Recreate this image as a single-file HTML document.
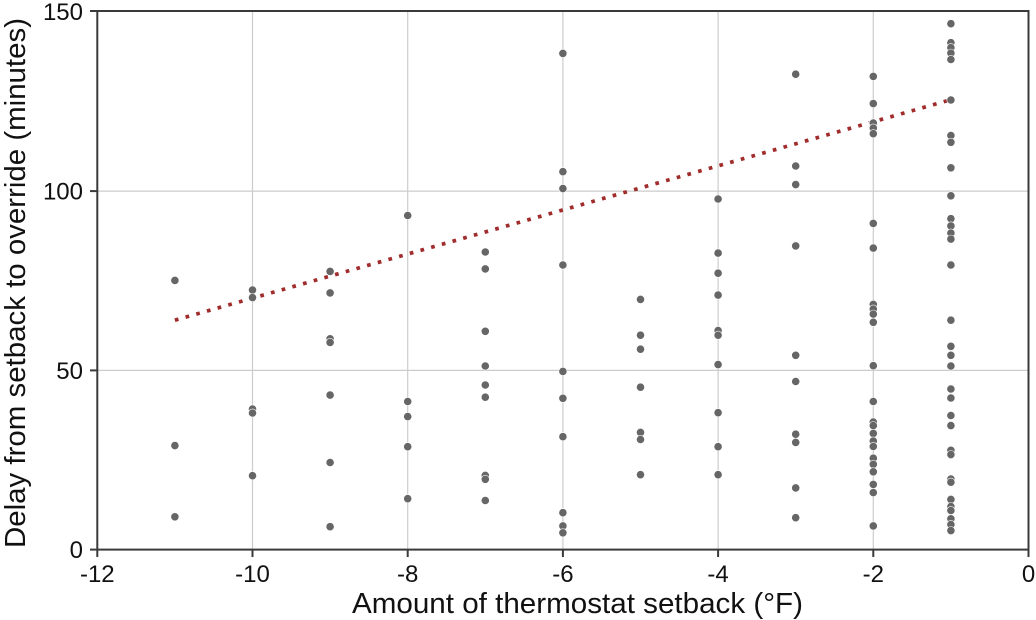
<!DOCTYPE html>
<html><head><meta charset="utf-8"><style>
html,body{margin:0;padding:0;background:#fff;}
svg{display:block;}
text{font-family:"Liberation Sans",Arial,sans-serif;fill:#111;}
</style></head><body>
<svg width="1036" height="620" viewBox="0 0 1036 620" xmlns="http://www.w3.org/2000/svg">
<rect x="0" y="0" width="1036" height="620" fill="#fff"/>
<g stroke="#cccccc" stroke-width="1.2">
<line x1="252.5" y1="11" x2="252.5" y2="549.6"/>
<line x1="407.7" y1="11" x2="407.7" y2="549.6"/>
<line x1="562.9" y1="11" x2="562.9" y2="549.6"/>
<line x1="718.1" y1="11" x2="718.1" y2="549.6"/>
<line x1="873.3" y1="11" x2="873.3" y2="549.6"/>
<line x1="97.3" y1="370.4" x2="1028.5" y2="370.4"/>
<line x1="97.3" y1="191.1" x2="1028.5" y2="191.1"/>
</g>
<line x1="174.9" y1="320.2" x2="950.9" y2="99.7" stroke="#a02c2c" stroke-width="3.7" stroke-dasharray="3.7 7.4"/>
<g fill="#666666" stroke="#fff" stroke-width="0.6">
<circle cx="174.9" cy="280.4" r="4.1"/><circle cx="174.9" cy="445.6" r="4.1"/><circle cx="174.9" cy="516.8" r="4.1"/>
<circle cx="252.5" cy="290.0" r="4.1"/><circle cx="252.5" cy="297.6" r="4.1"/><circle cx="252.5" cy="409.1" r="4.1"/><circle cx="252.5" cy="413.0" r="4.1"/><circle cx="252.5" cy="475.7" r="4.1"/>
<circle cx="330.1" cy="271.4" r="4.1"/><circle cx="330.1" cy="292.9" r="4.1"/><circle cx="330.1" cy="338.8" r="4.1"/><circle cx="330.1" cy="342.4" r="4.1"/><circle cx="330.1" cy="395.1" r="4.1"/><circle cx="330.1" cy="462.5" r="4.1"/><circle cx="330.1" cy="526.7" r="4.1"/>
<circle cx="407.7" cy="215.5" r="4.1"/><circle cx="407.7" cy="401.5" r="4.1"/><circle cx="407.7" cy="416.6" r="4.1"/><circle cx="407.7" cy="446.7" r="4.1"/><circle cx="407.7" cy="498.7" r="4.1"/>
<circle cx="485.3" cy="252.0" r="4.1"/><circle cx="485.3" cy="268.9" r="4.1"/><circle cx="485.3" cy="331.3" r="4.1"/><circle cx="485.3" cy="366.0" r="4.1"/><circle cx="485.3" cy="385.0" r="4.1"/><circle cx="485.3" cy="397.2" r="4.1"/><circle cx="485.3" cy="475.4" r="4.1"/><circle cx="485.3" cy="479.3" r="4.1"/><circle cx="485.3" cy="500.5" r="4.1"/>
<circle cx="562.9" cy="53.4" r="4.1"/><circle cx="562.9" cy="171.7" r="4.1"/><circle cx="562.9" cy="188.6" r="4.1"/><circle cx="562.9" cy="265.0" r="4.1"/><circle cx="562.9" cy="371.4" r="4.1"/><circle cx="562.9" cy="398.3" r="4.1"/><circle cx="562.9" cy="436.7" r="4.1"/><circle cx="562.9" cy="512.7" r="4.1"/><circle cx="562.9" cy="525.9" r="4.1"/><circle cx="562.9" cy="532.8" r="4.1"/>
<circle cx="640.5" cy="299.4" r="4.1"/><circle cx="640.5" cy="335.2" r="4.1"/><circle cx="640.5" cy="349.2" r="4.1"/><circle cx="640.5" cy="387.2" r="4.1"/><circle cx="640.5" cy="432.4" r="4.1"/><circle cx="640.5" cy="439.5" r="4.1"/><circle cx="640.5" cy="474.7" r="4.1"/>
<circle cx="718.1" cy="199.0" r="4.1"/><circle cx="718.1" cy="253.1" r="4.1"/><circle cx="718.1" cy="273.2" r="4.1"/><circle cx="718.1" cy="295.1" r="4.1"/><circle cx="718.1" cy="330.6" r="4.1"/><circle cx="718.1" cy="335.2" r="4.1"/><circle cx="718.1" cy="364.6" r="4.1"/><circle cx="718.1" cy="412.7" r="4.1"/><circle cx="718.1" cy="446.7" r="4.1"/><circle cx="718.1" cy="474.7" r="4.1"/>
<circle cx="795.7" cy="74.2" r="4.1"/><circle cx="795.7" cy="166.0" r="4.1"/><circle cx="795.7" cy="184.6" r="4.1"/><circle cx="795.7" cy="245.9" r="4.1"/><circle cx="795.7" cy="355.3" r="4.1"/><circle cx="795.7" cy="381.5" r="4.1"/><circle cx="795.7" cy="434.2" r="4.1"/><circle cx="795.7" cy="442.4" r="4.1"/><circle cx="795.7" cy="487.9" r="4.1"/><circle cx="795.7" cy="517.7" r="4.1"/>
<circle cx="873.3" cy="76.4" r="4.1"/><circle cx="873.3" cy="103.6" r="4.1"/><circle cx="873.3" cy="123.0" r="4.1"/><circle cx="873.3" cy="128.0" r="4.1"/><circle cx="873.3" cy="133.7" r="4.1"/><circle cx="873.3" cy="223.4" r="4.1"/><circle cx="873.3" cy="248.1" r="4.1"/><circle cx="873.3" cy="304.4" r="4.1"/><circle cx="873.3" cy="309.0" r="4.1"/><circle cx="873.3" cy="314.1" r="4.1"/><circle cx="873.3" cy="322.3" r="4.1"/><circle cx="873.3" cy="365.7" r="4.1"/><circle cx="873.3" cy="401.5" r="4.1"/><circle cx="873.3" cy="422.0" r="4.1"/><circle cx="873.3" cy="425.6" r="4.1"/><circle cx="873.3" cy="433.4" r="4.1"/><circle cx="873.3" cy="441.0" r="4.1"/><circle cx="873.3" cy="446.4" r="4.1"/><circle cx="873.3" cy="458.2" r="4.1"/><circle cx="873.3" cy="464.3" r="4.1"/><circle cx="873.3" cy="471.8" r="4.1"/><circle cx="873.3" cy="484.4" r="4.1"/><circle cx="873.3" cy="492.6" r="4.1"/><circle cx="873.3" cy="525.9" r="4.1"/>
<circle cx="950.9" cy="23.7" r="4.1"/><circle cx="950.9" cy="42.7" r="4.1"/><circle cx="950.9" cy="47.7" r="4.1"/><circle cx="950.9" cy="53.1" r="4.1"/><circle cx="950.9" cy="59.5" r="4.1"/><circle cx="950.9" cy="100.0" r="4.1"/><circle cx="950.9" cy="135.5" r="4.1"/><circle cx="950.9" cy="142.3" r="4.1"/><circle cx="950.9" cy="167.8" r="4.1"/><circle cx="950.9" cy="195.8" r="4.1"/><circle cx="950.9" cy="218.7" r="4.1"/><circle cx="950.9" cy="225.9" r="4.1"/><circle cx="950.9" cy="233.0" r="4.1"/><circle cx="950.9" cy="239.1" r="4.1"/><circle cx="950.9" cy="265.0" r="4.1"/><circle cx="950.9" cy="320.2" r="4.1"/><circle cx="950.9" cy="346.3" r="4.1"/><circle cx="950.9" cy="355.3" r="4.1"/><circle cx="950.9" cy="366.0" r="4.1"/><circle cx="950.9" cy="389.0" r="4.1"/><circle cx="950.9" cy="398.0" r="4.1"/><circle cx="950.9" cy="415.5" r="4.1"/><circle cx="950.9" cy="425.6" r="4.1"/><circle cx="950.9" cy="450.3" r="4.1"/><circle cx="950.9" cy="454.6" r="4.1"/><circle cx="950.9" cy="479.0" r="4.1"/><circle cx="950.9" cy="482.2" r="4.1"/><circle cx="950.9" cy="499.4" r="4.1"/><circle cx="950.9" cy="506.6" r="4.1"/><circle cx="950.9" cy="510.5" r="4.1"/><circle cx="950.9" cy="518.8" r="4.1"/><circle cx="950.9" cy="524.5" r="4.1"/><circle cx="950.9" cy="530.6" r="4.1"/>
</g>
<rect x="97.3" y="11" width="931.2" height="538.6" fill="none" stroke="#3a3a3a" stroke-width="2"/>
<g stroke="#3a3a3a" stroke-width="2">
<line x1="97.3" y1="549.6" x2="97.3" y2="557"/>
<line x1="252.5" y1="549.6" x2="252.5" y2="557"/>
<line x1="407.7" y1="549.6" x2="407.7" y2="557"/>
<line x1="562.9" y1="549.6" x2="562.9" y2="557"/>
<line x1="718.1" y1="549.6" x2="718.1" y2="557"/>
<line x1="873.3" y1="549.6" x2="873.3" y2="557"/>
<line x1="1028.5" y1="549.6" x2="1028.5" y2="557"/>
<line x1="90" y1="549.6" x2="97.3" y2="549.6"/>
<line x1="90" y1="370.4" x2="97.3" y2="370.4"/>
<line x1="90" y1="191.1" x2="97.3" y2="191.1"/>
<line x1="90" y1="11" x2="97.3" y2="11"/>
</g>
<g font-size="24" text-anchor="middle">
<text x="97.3" y="582">-12</text>
<text x="252.5" y="582">-10</text>
<text x="407.7" y="582">-8</text>
<text x="562.9" y="582">-6</text>
<text x="718.1" y="582">-4</text>
<text x="873.3" y="582">-2</text>
<text x="1028.5" y="582">0</text>
</g>
<g font-size="24" text-anchor="end">
<text x="83" y="558.2">0</text>
<text x="83" y="379">50</text>
<text x="83" y="199.7">100</text>
<text x="83" y="19.8">150</text>
</g>
<text x="352" y="613" font-size="28.5" textLength="451" lengthAdjust="spacingAndGlyphs">Amount of thermostat setback (°F)</text>
<text transform="translate(25,548) rotate(-90)" x="0" y="0" font-size="28.5" textLength="530" lengthAdjust="spacingAndGlyphs">Delay from setback to override (minutes)</text>
</svg>
</body></html>
